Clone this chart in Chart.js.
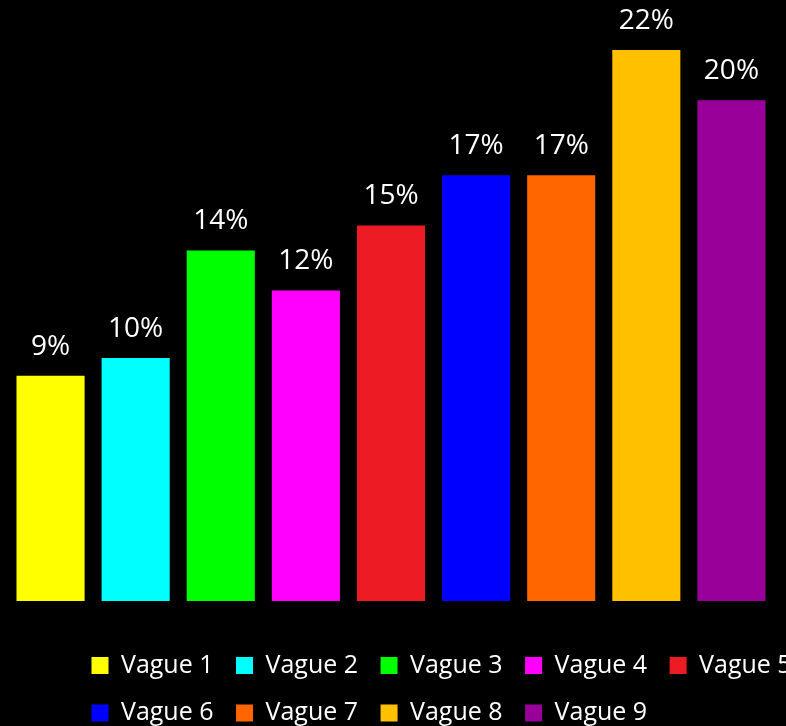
<!DOCTYPE html>
<html>
<head>
<meta charset="utf-8">
<script src="https://cdn.jsdelivr.net/npm/chart.js@4/dist/chart.umd.min.js"></script>
<style>
  html, body { margin: 0; padding: 0; background: #000; overflow: hidden; }
  #wrap { width: 786px; height: 726px; }
</style>
</head>
<body>
<div id="wrap"><canvas id="chart"></canvas></div>
<script>
// series names, values (in %) and colours, one bar per wave
const waves = ["Vague 1", "Vague 2", "Vague 3", "Vague 4", "Vague 5", "Vague 6", "Vague 7", "Vague 8", "Vague 9"];
const values = [9.0, 9.7, 14.0, 12.4, 15.0, 17.0, 17.0, 22.0, 20.0];
const colors = ["#FFFF00", "#00FFFF", "#00FF00", "#FF00FF", "#ED1C24", "#0000FF", "#FF6600", "#FFC000", "#990099"];

const FONT = "'Open Sans', 'Liberation Sans', sans-serif";

// percent label above each bar
const valueLabels = {
  id: "valueLabels",
  afterDatasetsDraw(chart) {
    const ctx = chart.ctx;
    ctx.save();
    ctx.fillStyle = "#ffffff";
    ctx.font = "28px " + FONT;
    ctx.textAlign = "center";
    ctx.textBaseline = "alphabetic";
    chart.data.datasets.forEach((ds, i) => {
      const bar = chart.getDatasetMeta(i).data[0];
      ctx.fillText(Math.round(ds.data[0]) + "%", bar.x, bar.y - 21);
    });
    ctx.restore();
  }
};

// legend sits left-aligned at x≈93 and runs past the right edge, like the original
const legendPlace = {
  id: "legendPlace",
  afterLayout(chart) {
    const lg = chart.legend;
    const h = lg.bottom - lg.top;
    lg.left = 69;
    lg.right = 69 + 780;
    lg.top = 630.5;
    lg.bottom = lg.top + h;
  }
};

new Chart(document.getElementById("chart"), {
  type: "bar",
  data: {
    labels: [""],
    datasets: waves.map((name, i) => ({
      label: name,
      data: [values[i]],
      backgroundColor: colors[i],
      borderWidth: 0
    }))
  },
  options: {
    responsive: true,
    maintainAspectRatio: false,
    animation: false,
    layout: { padding: { left: 8, right: 12, top: 0, bottom: 20 } },
    datasets: { bar: { categoryPercentage: 1.0, barPercentage: 0.8 } },
    scales: {
      x: { display: false },
      y: { display: false, min: 0, max: 24 }
    },
    plugins: {
      tooltip: { enabled: false },
      legend: {
        position: "bottom",
        align: "start",
        labels: {
          color: "#ffffff",
          font: { family: FONT, size: 25 },
          boxWidth: 17,
          boxHeight: 17,
          padding: 22.5
        }
      }
    }
  },
  plugins: [valueLabels, legendPlace]
});
</script>
</body>
</html>
